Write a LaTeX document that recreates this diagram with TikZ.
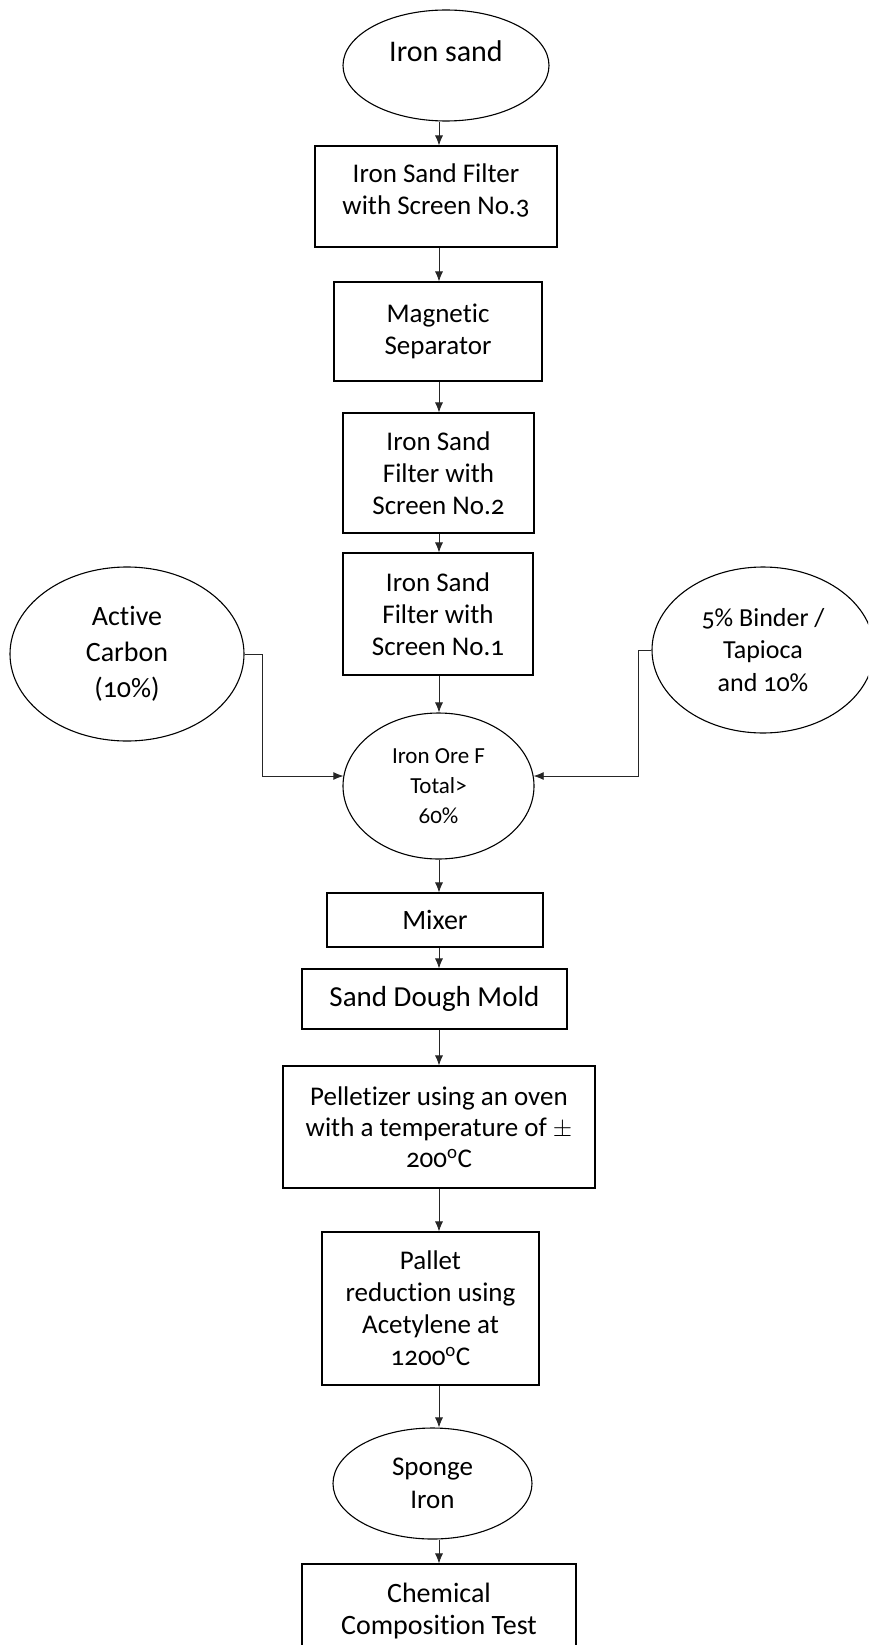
\documentclass[tikz,border=0pt]{standalone}
\usepackage{fontspec}
\setmainfont{Carlito}[Numbers=OldStyle, Ligatures=NoCommon]
\usetikzlibrary{shapes,arrows.meta}

\begin{document}
\begin{tikzpicture}
[x=1pt,y=-1pt]
\tikzset{
	process/.style = {rectangle, draw, line width=1.1pt, inner sep=0pt, align=center, font=\fontsize{27}{32}\selectfont},
	terminal/.style = {ellipse, draw, line width=1.1pt, inner sep=0pt, align=center, font=\fontsize{27}{33}\selectfont},
	flow/.style = {-{Latex[length=10pt,width=8pt]}, line width=0.8pt, draw=black!85}
}
\clip (0,0) rectangle (868,1645);
\coordinate (spine) at (439,0);

% main column
\node(sand) [terminal, minimum width=206pt, minimum height=111pt, text depth=28pt, font=\fontsize{30}{36}\selectfont] at (446,65.5) {Iron sand};
\node(filter3) [process, minimum width=242pt, minimum height=101pt, text depth=15pt] at (436,196.5) {Iron Sand Filter\\with Screen No.3};
\node(magsep) [process, minimum width=208pt, minimum height=99pt] at (438,331.5) {Magnetic\\Separator};
\node(filter2) [process, minimum width=191pt, minimum height=120pt] at (438.5,473) {Iron Sand\\Filter with\\Screen No.2};
\node(filter1) [process, minimum width=190pt, minimum height=122pt] at (438,614) {Iron Sand\\Filter with\\Screen No.1};
\node(ore) [terminal, minimum width=191pt, minimum height=146pt, font=\fontsize{23}{30}\selectfont] at (438.5,786) {Iron Ore F\\Total>\\60\%};
\node(mixer) [process, minimum width=216pt, minimum height=54pt, font=\fontsize{28}{32}\selectfont] at (435,920) {Mixer};
\node(dough) [process, minimum width=265pt, minimum height=60pt, font=\fontsize{29}{32}\selectfont] at (434.5,999) {Sand Dough Mold};
\node(pellet) [process, minimum width=312pt, minimum height=122pt, font=\fontsize{27}{31}\selectfont] at (439,1127) {Pelletizer using an oven\\with a temperature of $\pm$\\200\textsuperscript{o}C};
\node(pallet) [process, minimum width=217pt, minimum height=153pt] at (430.5,1308.5) {Pallet\\reduction using\\Acetylene at\\1200\textsuperscript{o}C};
\node(sponge) [terminal, minimum width=199pt, minimum height=111pt] at (432.5,1483.5) {Sponge\\Iron};
\node(chem) [process, minimum width=274pt, minimum height=94pt, font=\fontsize{28}{32}\selectfont] at (439,1611) {Chemical\\Composition Test};

% side inputs
\node(carbon) [terminal, minimum width=234pt, minimum height=174pt, font=\fontsize{28}{36}\selectfont] at (127,654) {Active\\Carbon\\(10\%)};
\node(binder) [terminal, minimum width=222pt, minimum height=166pt, font=\fontsize{26}{32.5}\selectfont] at (763,650) {5\% Binder /\\Tapioca\\and 10\%};

\draw [flow] (sand.south -| spine) -- (filter3.north -| spine);
\draw [flow] (filter3.south -| spine) -- (magsep.north -| spine);
\draw [flow] (magsep.south -| spine) -- (filter2.north -| spine);
\draw [flow] (filter2.south -| spine) -- (filter1.north -| spine);
\draw [flow] (filter1.south -| spine) -- (ore.north -| spine);
\draw [flow] (ore.south -| spine) -- (mixer.north -| spine);
\draw [flow] (mixer.south -| spine) -- (dough.north -| spine);
\draw [flow] (dough.south -| spine) -- (pellet.north -| spine);
\draw [flow] (pellet.south -| spine) -- (pallet.north -| spine);
\draw [flow] (pallet.south -| spine) -- (sponge.north -| spine);
\draw [flow] (sponge.south -| spine) -- (chem.north -| spine);

\draw [flow] (carbon.east) -- ++(18,0) |- (ore.174);
\draw [flow] (binder.west) -- ++(-13,0) |- (ore.6);

\end{tikzpicture}
\end{document}
